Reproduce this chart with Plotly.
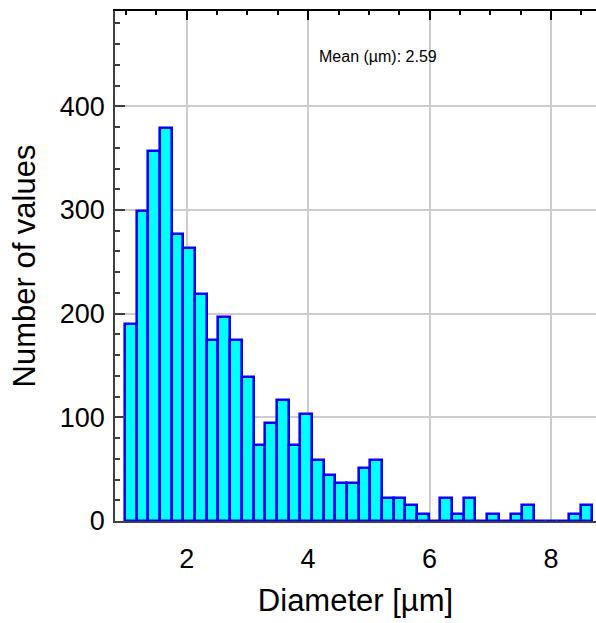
import plotly.graph_objects as go

# Histogram data
bin_start = 0.984
bin_width = 0.1924
counts = [190, 299, 357, 379, 277, 263, 219, 175, 197, 175,
          139, 73, 95, 117, 73, 103, 59, 44, 37, 37,
          51, 59, 22, 22, 15, 7, 0, 22, 7, 22,
          0, 7, 0, 7, 15, 0, 0, 0, 7, 15]
x_ticks = [2, 4, 6, 8]
y_ticks = [0, 100, 200, 300, 400]
mean_label = "Mean (µm): 2.59"
x_title = "Diameter [µm]"
y_title = "Number of values"

centers = [bin_start + bin_width * (i + 0.5) for i in range(len(counts))]

FONT = "Liberation Sans, Arial, sans-serif"
x_range = [0.819, 8.741]
y_range = [0, 492]

fig = go.Figure()
fig.add_trace(go.Bar(
    x=centers, y=counts, width=bin_width,
    marker=dict(color="#00ffff", line=dict(color="#0000ff", width=2.6)),
    showlegend=False, hoverinfo="skip",
))
# invisible trace to activate top axis
fig.add_trace(go.Scatter(x=[None], y=[None], xaxis="x2", yaxis="y",
                         showlegend=False, hoverinfo="skip"))

fig.update_layout(
    width=596, height=623,
    margin=dict(l=115, r=0, t=11, b=102),
    paper_bgcolor="white", plot_bgcolor="white",
    font=dict(family=FONT, color="black"),
    bargap=0,
    xaxis=dict(
        range=x_range, tickvals=x_ticks, ticks="", showline=True,
        linecolor="#404040", linewidth=1.5,
        showgrid=True, gridcolor="#cccccc", gridwidth=1.5,
        tickfont=dict(size=27, family=FONT),
        title=dict(text=x_title, font=dict(size=31, family=FONT), standoff=16),
        zeroline=False, ticklabelstandoff=13,
    ),
    xaxis2=dict(
        range=x_range, overlaying="x", side="top", tickvals=x_ticks,
        ticks="inside", ticklen=9, tickwidth=1.5, tickcolor="black",
        showline=True, linecolor="black", linewidth=1.5,
        showticklabels=False, showgrid=False, zeroline=False,
        minor=dict(dtick=0.5, tick0=0, ticks="inside", ticklen=4,
                   tickwidth=1.5, tickcolor="black", showgrid=False),
    ),
    yaxis=dict(
        range=y_range, tickvals=y_ticks, ticks="inside", ticklen=10,
        tickwidth=1.5, tickcolor="#404040",
        showline=True, linecolor="#404040", linewidth=1.5,
        showgrid=True, gridcolor="#cccccc", gridwidth=1.5,
        tickfont=dict(size=27, family=FONT),
        title=dict(text=y_title, font=dict(size=31, family=FONT), standoff=15),
        zeroline=False, ticklabelstandoff=3,
        minor=dict(dtick=20, tick0=0, ticks="inside", ticklen=5,
                   tickwidth=1.5, tickcolor="#404040", showgrid=False),
    ),
    annotations=[dict(
        text=mean_label, xref="paper", yref="paper", x=0.547, y=0.91,
        xanchor="center", yanchor="middle",
        showarrow=False, font=dict(size=16, family=FONT, color="black"),
    )],
)

fig.write_html("out.html")
